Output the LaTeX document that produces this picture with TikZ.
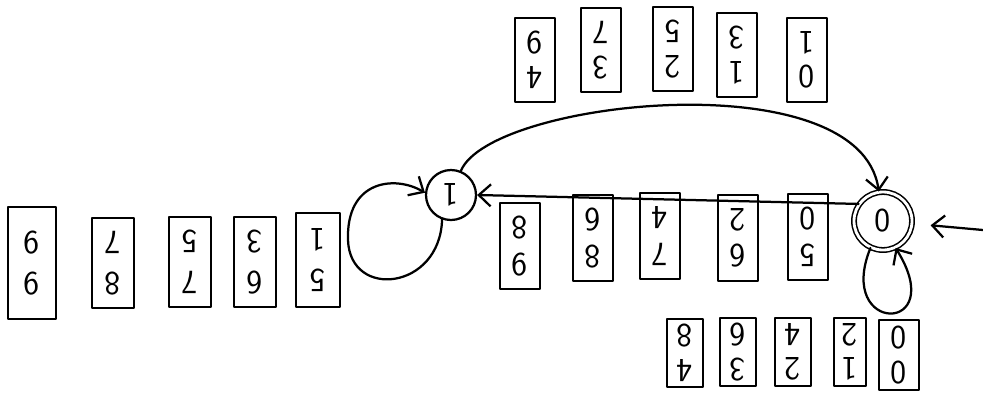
\documentclass[tikz,border=0pt]{standalone}
\usepackage{fontspec}
\usetikzlibrary{arrows.meta}

\begin{document}
\begin{tikzpicture}[x=0.25mm,y=-0.25mm,line width=1.6pt,line cap=round,line join=round,
  >={Straight Barb[length=3mm,width=5.5mm]},
  card/.style={draw,rotate=180,align=center,inner sep=0pt,minimum width=10mm,minimum height=21mm,
    font=\sffamily\fontsize{24}{24.5}\selectfont},
  stnode/.style={draw,circle,minimum size=12.5mm,inner sep=0pt,font=\sffamily\fontsize{24}{24}\selectfont}]
 \useasboundingbox (0,0) rectangle (983,394);
 % the two states
 \node[stnode] (s1) at (451,195) {\rotatebox{180}{1}};
 \node[stnode,line width=1.1pt,double,double distance=2pt,minimum size=14.5mm] (s0) at (883,221) {\rotatebox{180}{0}};
 \coordinate (start) at (983,230);
 % cards above the arc
 \node[card] (t4) at (535,60) {4\\9};
 \node[card] (t3) at (601,50) {3\\7};
 \node[card] (t2) at (673,49) {2\\5};
 \node[card] (t1) at (737,55) {1\\3};
 \node[card] (t0) at (807,60) {0\\1};
 % cards under the straight edge
 \node[card,minimum height=21.5mm,font=\sffamily\fontsize{24}{26}\selectfont] (m9) at (520,246) {9\\8};
 \node[card,minimum height=21.5mm,font=\sffamily\fontsize{24}{26}\selectfont] (m8) at (593,238) {8\\6};
 \node[card,minimum height=21.5mm,font=\sffamily\fontsize{24}{26}\selectfont] (m7) at (660,236) {7\\4};
 \node[card,minimum height=21.5mm,font=\sffamily\fontsize{24}{26}\selectfont] (m6) at (738,238) {6\\2};
 \node[card,minimum height=21.5mm,font=\sffamily\fontsize{24}{26}\selectfont] (m5) at (808,237) {5\\0};
 % cards left of the loop on 1
 \node[card,minimum width=12mm,minimum height=28mm,font=\sffamily\fontsize{24}{29}\selectfont] (l9) at (32,263) {9\\9};
 \node[card,minimum width=10.5mm,minimum height=22.5mm,font=\sffamily\fontsize{24}{29}\selectfont] (l8) at (113,263) {8\\7};
 \node[card,minimum width=10.5mm,minimum height=22.5mm,font=\sffamily\fontsize{24}{29}\selectfont] (l7) at (190,262) {7\\5};
 \node[card,minimum width=10.5mm,minimum height=22.5mm,font=\sffamily\fontsize{24}{29}\selectfont] (l6) at (255,262) {6\\3};
 \node[card,minimum width=11mm,minimum height=23.5mm,font=\sffamily\fontsize{24}{29}\selectfont] (l5) at (318,260) {5\\1};
 % cards under the loop on 0
 \node[card,minimum width=9mm,minimum height=17mm] (b4) at (685,353) {4\\8};
 \node[card,minimum width=9mm,minimum height=17mm] (b3) at (738,352) {3\\6};
 \node[card,minimum width=9mm,minimum height=17mm] (b2) at (793,352) {2\\4};
 \node[card,minimum width=8mm,minimum height=17mm] (b1) at (850,352) {1\\2};
 \node[card,minimum width=10mm,minimum height=17.5mm] (b0) at (899,355) {0\\0};
 % edges
 \draw[->] (s1) .. controls (490,100) and (860,60) .. (s0);
 \draw[->] (s0.145) -- (s1.east);
 \draw[->] (s1.250) .. controls (440,290) and (350,300) .. (348,240) .. controls (346,180) and (395,175) .. (s1.175);
 \draw[->] (s0.245) .. controls (835,335) and (950,335) .. (s0.295);
 \draw[->,shorten >=4.5mm] (start) -- (s0);
\end{tikzpicture}
\end{document}
